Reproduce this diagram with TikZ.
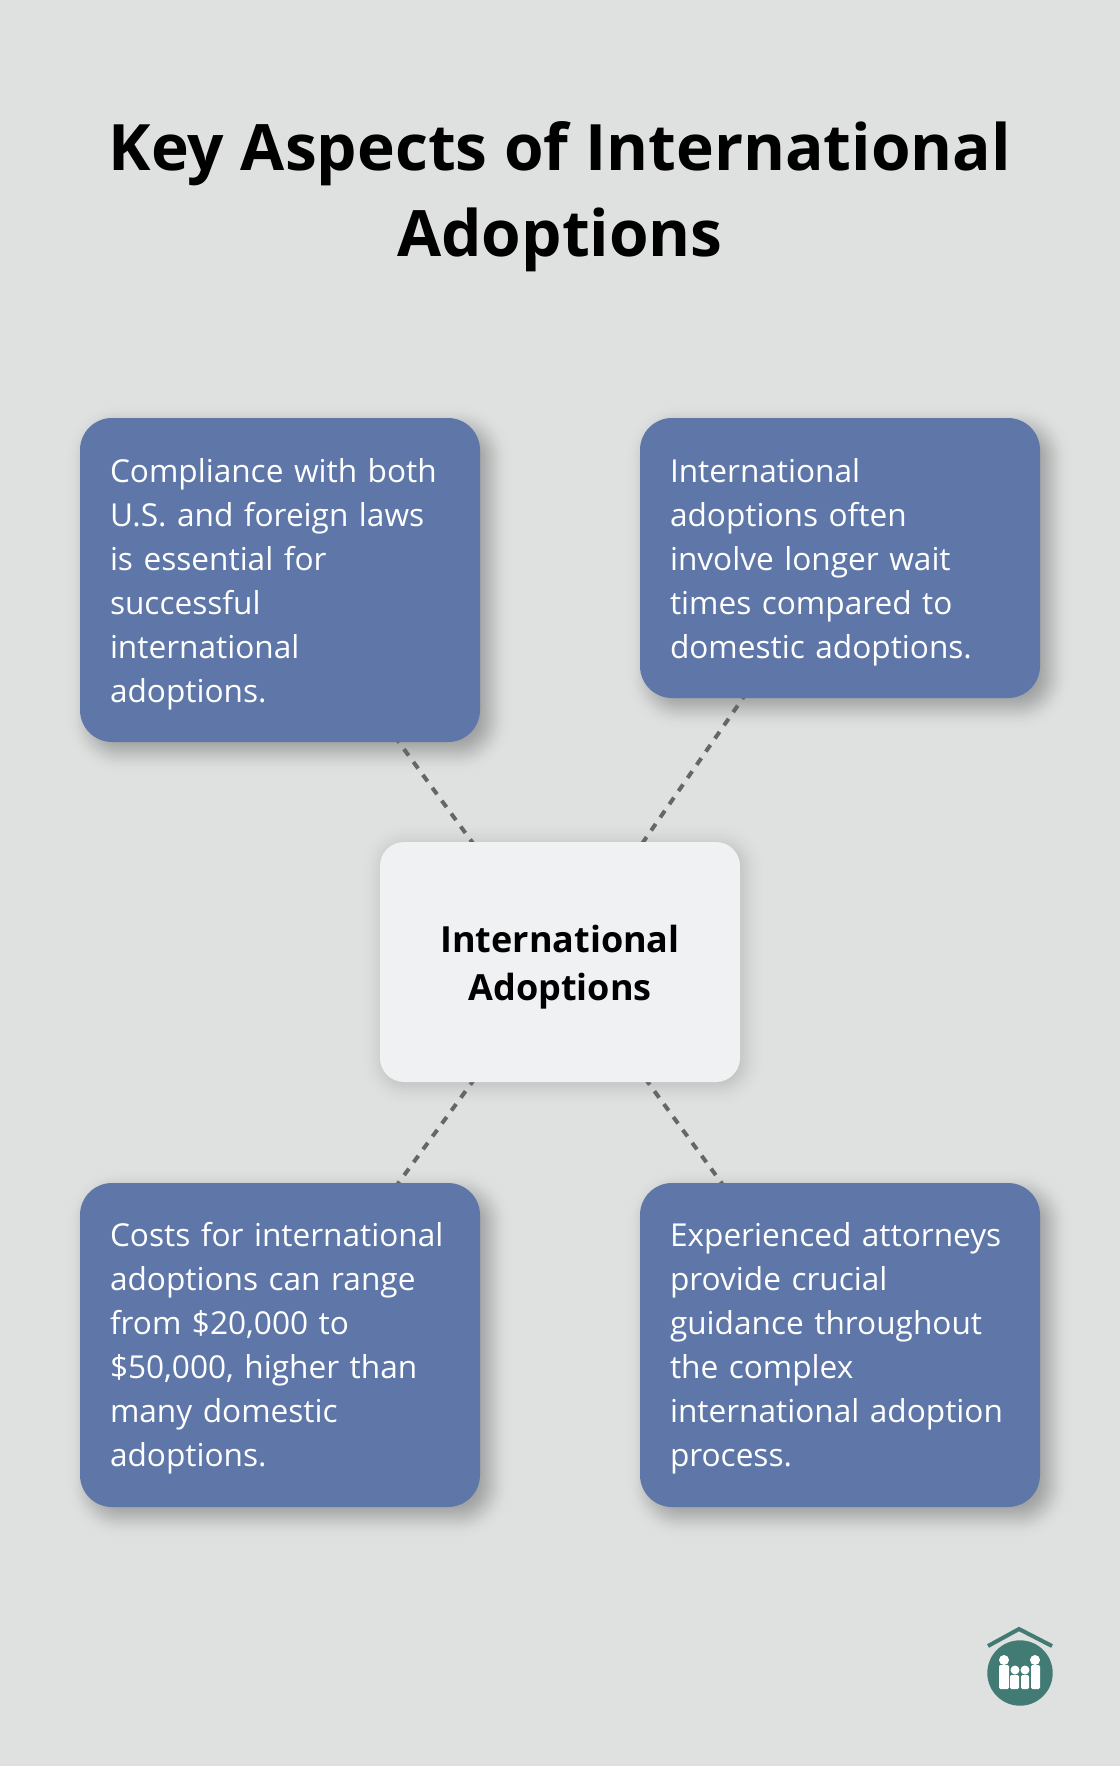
\documentclass[tikz,border=0pt]{standalone}
\usepackage{fontspec}
\setmainfont{Open Sans}
\usetikzlibrary{calc}
\definecolor{bgc}{HTML}{DFE1E1}
\definecolor{bluec}{HTML}{5E77A8}
\definecolor{centerc}{HTML}{F0F1F3}
\definecolor{dashc}{HTML}{666666}
\definecolor{tealc}{HTML}{417B74}
\pgfdeclarelayer{bglayer}
\pgfdeclarelayer{shadowlayer}
\pgfdeclarelayer{linelayer}
\pgfsetlayers{bglayer,shadowlayer,linelayer,main}
\newcommand{\softshadow}[4]{% node, offset, radius, peak opacity
  \begin{pgfonlayer}{shadowlayer}
  \foreach \g [evaluate=\g as \w using {#4*exp(-(\g/15)*(\g/15))}] in {36,34,...,-28}{
    \fill[black,opacity=\w,rounded corners={max(#3+\g,2)*0.75pt}]
      ($(#1.south west)+(#2-\g,#2+\g)$) rectangle ($(#1.north east)+(#2+\g,#2-\g)$);
  }
  \end{pgfonlayer}}
\tikzset{
  x=0.75pt,y=-0.75pt,
  bluebox/.style={fill=bluec,rounded corners=24pt,minimum width=300pt,inner sep=0pt},
  bluetext/.style={text=white,anchor=west,align=left,text width=255pt,inner sep=0pt,font=\fontsize{23.7pt}{33pt}\selectfont},
  centerbox/.style={fill=centerc,rounded corners=18pt,minimum width=270pt,minimum height=180pt,inner sep=0pt},
  centertext/.style={text=black,align=center,inner sep=0pt,font=\fontsize{27pt}{36pt}\selectfont\bfseries},
  titletext/.style={text=black,align=center,inner sep=0pt,font=\fontsize{48pt}{64.5pt}\selectfont\bfseries},
  link/.style={draw=dashc,line width=3pt,dash pattern=on 6pt off 6pt},
}
\begin{document}
\begin{tikzpicture}
\useasboundingbox (0,0) rectangle (1120,1766);
\begin{pgfonlayer}{bglayer}
\fill[bgc] (0,0) rectangle (1120,1766);
\end{pgfonlayer}
\node[titletext] (title) at (560,197) {Key Aspects of International\\Adoptions};
\node[bluebox,minimum height=243pt] (b1) at (280,580) {};
\node[bluebox,minimum height=210pt] (b2) at (840,558) {};
\node[bluebox,minimum height=243pt] (b3) at (280,1345) {};
\node[bluebox,minimum height=243pt] (b4) at (840,1345) {};
\node[centerbox] (c) at (560,962) {};
\node[bluetext] (t1) at ($(b1.west)+(30,4)$) {Compliance with both\\U.S. and foreign laws\\is essential for\\successful\\international\\adoptions.};
\node[bluetext] (t2) at ($(b2.west)+(30,4)$) {International\\adoptions often\\involve longer wait\\times compared to\\domestic adoptions.};
\node[bluetext] (t3) at ($(b3.west)+(30,3)$) {Costs for international\\adoptions can range\\from \$20,000 to\\\$50,000, higher than\\many domestic\\adoptions.};
\node[bluetext] (t4) at ($(b4.west)+(30,3)$) {Experienced attorneys\\provide crucial\\guidance throughout\\the complex\\international adoption\\process.};
\node[centertext] (ct) at ($(c.center)+(0,5)$) {International\\Adoptions};
\softshadow{b1}{9}{32}{0.024}
\softshadow{b2}{9}{32}{0.024}
\softshadow{b3}{9}{32}{0.024}
\softshadow{b4}{9}{32}{0.024}
\softshadow{c}{3}{24}{0.013}
\begin{pgfonlayer}{linelayer}
\draw[link] (c.center) -- (b1.center);
\draw[link] (c.center) -- (b2.center);
\draw[link] (c.center) -- (b3.center);
\draw[link] (c.center) -- (b4.center);
\end{pgfonlayer}
% logo
\draw[tealc,line width=3pt] (988,1646) -- (1019,1629) -- (1052,1646);
\fill[tealc] (1020,1673) circle[radius=32.7];
\fill[white] (1004,1660) circle[radius=5] (1035,1660) circle[radius=5] (1015,1670) circle[radius=4.5] (1025,1670) circle[radius=4.5];
\fill[white,rounded corners=1pt] (999,1665) rectangle (1009,1689) (1031,1665) rectangle (1040,1689) (1010,1675) rectangle (1019,1689) (1021,1675) rectangle (1029,1689);
\end{tikzpicture}
\end{document}
